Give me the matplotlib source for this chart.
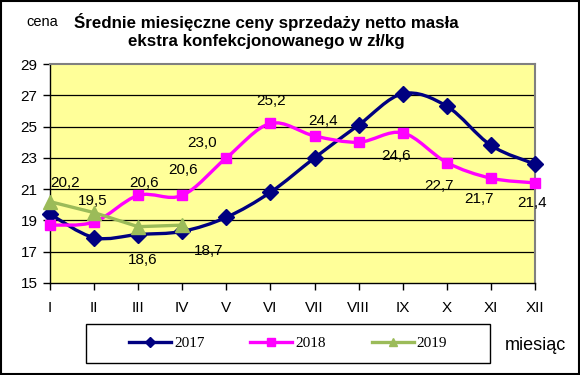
import matplotlib
matplotlib.use('Agg')
import matplotlib.pyplot as plt
from matplotlib.path import Path
from matplotlib.patches import PathPatch, Rectangle
from matplotlib.lines import Line2D

months = ['I', 'II', 'III', 'IV', 'V', 'VI', 'VII', 'VIII', 'IX', 'X', 'XI', 'XII']
y2017 = [19.4, 17.9, 18.1, 18.3, 19.2, 20.8, 23.0, 25.1, 27.1, 26.3, 23.8, 22.6]
y2018 = [18.7, 18.9, 20.6, 20.6, 23.0, 25.2, 24.4, 24.0, 24.6, 22.7, 21.7, 21.4]
y2019 = [20.2, 19.5, 18.6, 18.7]
series_names = ['2017', '2018', '2019']
yticks = [15, 17, 19, 21, 23, 25, 27, 29]

title = 'Średnie miesięczne ceny sprzedaży netto masła\nekstra konfekcjonowanego w zł/kg'

# label positions (pixel offsets of label centre from the point; +y = down)
lab2018 = {2: (6, -12), 3: (1, -25), 4: (-24, -15), 5: (1, -22), 6: (9, -15),
           8: (-7, 23), 9: (-8, 23.5), 10: (-12, 21), 11: (-3, 20)}
lab2019 = {0: (15, -19), 1: (-1, -12), 2: (5, 33), 3: (26, 26)}

C17 = '#000080'
C18 = '#FF00FF'
C19 = '#9BBB59'
SANS = 'Liberation Sans'
SERIF = 'Liberation Serif'

W, H = 580, 375
fig = plt.figure(figsize=(W / 100, H / 100), dpi=100)
fig.patch.set_facecolor('white')

ax = fig.add_axes([50 / W, 1 - 283 / H, 485 / W, 219 / H])
ax.set_facecolor('#FFFF99')
ax.set_xlim(0, 11)
ax.set_ylim(15, 29)
ax.set_yticks(yticks)
ax.set_yticklabels([str(t) for t in yticks], fontfamily=SANS, fontsize=11)
ax.set_xticks(range(len(months)))
ax.set_xticklabels(months, fontfamily=SANS, fontsize=11)
ax.tick_params(axis='y', direction='out', length=5, width=1, pad=4, colors='black')
ax.tick_params(axis='x', direction='out', length=5, width=1, pad=8, colors='black')
for s in ['top', 'right']:
    ax.spines[s].set_color('#808080')
    ax.spines[s].set_linewidth(1.5)
for s in ['left', 'bottom']:
    ax.spines[s].set_color('black')
    ax.spines[s].set_linewidth(1.0)
for t in yticks[1:-1]:
    ax.axhline(t, color='black', lw=0.9, zorder=1)


def smooth_path(xs, ys):
    pts = list(zip(xs, ys))
    n = len(pts)
    verts = [pts[0]]
    codes = [Path.MOVETO]
    for i in range(n - 1):
        p0 = pts[i - 1] if i > 0 else pts[i]
        p1 = pts[i]
        p2 = pts[i + 1]
        p3 = pts[i + 2] if i + 2 < n else pts[i + 1]
        c1 = (p1[0] + (p2[0] - p0[0]) / 6, p1[1] + (p2[1] - p0[1]) / 6)
        c2 = (p2[0] - (p3[0] - p1[0]) / 6, p2[1] - (p3[1] - p1[1]) / 6)
        verts += [c1, c2, p2]
        codes += [Path.CURVE4] * 3
    return Path(verts, codes)


x17 = list(range(len(y2017)))
x18 = list(range(len(y2018)))
x19 = list(range(len(y2019)))

ax.add_patch(PathPatch(smooth_path(x17, y2017), fill=False, ec=C17, lw=2.4, zorder=3, clip_on=False))
ax.plot(x17, y2017, ls='none', marker='D', ms=8.5, color=C17, zorder=4, clip_on=False)
ax.add_patch(PathPatch(smooth_path(x18, y2018), fill=False, ec=C18, lw=2.4, zorder=3, clip_on=False))
ax.plot(x18, y2018, ls='none', marker='s', ms=7.5, color=C18, zorder=4, clip_on=False)
ax.plot(x19, y2019, ls='-', lw=2.4, marker='^', ms=10.5, color=C19, zorder=5, clip_on=False)


def fmt(v):
    return f'{v:.1f}'.replace('.', ',')


for i, (dx, dy) in lab2018.items():
    ax.annotate(fmt(y2018[i]), (x18[i], y2018[i]), xytext=(dx * 0.72, -dy * 0.72),
                textcoords='offset points', ha='center', va='center',
                fontfamily=SANS, fontsize=11, zorder=6)
for i, (dx, dy) in lab2019.items():
    ax.annotate(fmt(y2019[i]), (x19[i], y2019[i]), xytext=(dx * 0.72, -dy * 0.72),
                textcoords='offset points', ha='center', va='center',
                fontfamily=SANS, fontsize=11, zorder=6)

# title and axis captions
fig.text(266 / W, 1 - 31 / H, title, ha='center', va='center', fontfamily=SANS,
         fontweight='bold', fontsize=12.2, linespacing=1.2)
fig.text(42 / W, 1 - 22 / H, 'cena', ha='center', va='center', fontfamily=SANS, fontsize=10.5)
fig.text(535 / W, 1 - 346 / H, 'miesiąc', ha='center', va='center', fontfamily=SANS, fontsize=13)

# legend
handles = [Line2D([], [], color=C17, lw=2.4, marker='D', ms=5),
           Line2D([], [], color=C18, lw=2.4, marker='s', ms=6),
           Line2D([], [], color=C19, lw=2.4, marker='^', ms=6)]
fig.patches.append(Rectangle((86 / W, 1 - 363 / H), 404 / W, 39 / H, transform=fig.transFigure,
                             fill=False, ec='black', lw=1.0))
fig.legend(handles, series_names, loc='center', bbox_to_anchor=(288 / W, 1 - 343.5 / H),
           ncol=3, frameon=False, handlelength=2.75, handletextpad=0.2, columnspacing=3.0,
           prop={'family': SERIF, 'size': 11})

fig.patches.append(Rectangle((1 / W, 1 / H), (W - 2) / W, (H - 2) / H, transform=fig.transFigure,
                             fill=False, ec='black', lw=1.5))

fig.savefig('out.png', dpi=100)
